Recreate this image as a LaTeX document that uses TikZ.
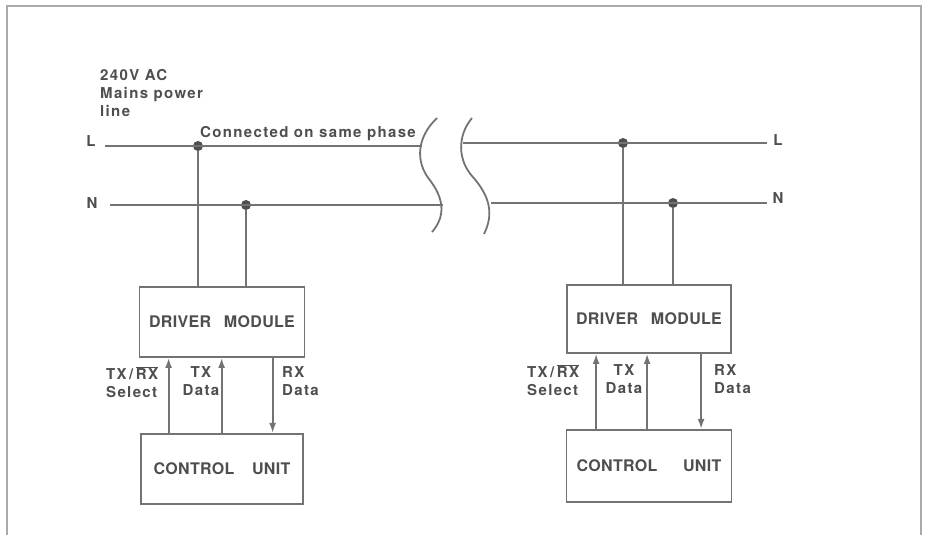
\documentclass[tikz,border=0pt]{standalone}
\usepackage{fontspec}
\setmainfont{TeX Gyre Heros}
\newfontfamily\lblfont[LetterSpace=9]{TeX Gyre Heros Bold}
\newfontfamily\unitfont[LetterSpace=2]{TeX Gyre Heros Bold}
\usetikzlibrary{positioning,arrows.meta,calc}
\definecolor{ink}{RGB}{78,78,78}
\definecolor{cwire}{RGB}{115,115,115}
\definecolor{cframe}{RGB}{170,170,170}
\tikzset{
  unit/.style={draw=cwire, line width=1.8pt, text=ink, minimum width=164pt,
    minimum height=70pt, inner sep=0pt, font=\unitfont\fontsize{16}{19}\selectfont},
  lbl/.style={text=ink, inner sep=0pt, align=left,
    font=\lblfont\fontsize{15}{18}\selectfont},
  wire/.style={draw=cwire, line width=1.8pt},
  sig/.style={draw=cwire, line width=1.8pt, -{Latex[length=10pt,width=7pt]}},
  joint/.style={circle, fill=ink, inner sep=0pt, minimum size=10pt},
}

\begin{document}
\begin{tikzpicture}[x=1pt, y=-1pt, node distance=75pt]
  \useasboundingbox (0,0) rectangle (928,535);
  % outer frame, open at the bottom
  \draw[draw=cframe, line width=1.4pt] (7,535) -- (7,6) -- (921,6) -- (921,535);

  % mains line, left side
  \node[lbl, anchor=north west] (mains) at (100,69) {240V AC\\Mains power\\line};
  \node[lbl] (lA) at (91,141) {L};
  \node[lbl] (nA) at (92,203) {N};
  \node[lbl, anchor=base west] (phase) at (200,137) {Connected on same phase};
  \coordinate (lAend) at (422,146);
  \coordinate (nAend) at (443,205);
  \node[joint] (jlA) at (198,146) {};
  \node[joint] (jnA) at (246,205) {};
  \draw[wire] (105,146) coordinate (lAstart) -- (lAend);
  \draw[wire] (110,205) coordinate (nAstart) -- (nAend);

  % break in the line
  \draw[wire] (437,118) .. controls (416,138) and (416,162) .. (429,179)
    .. controls (444,198) and (446,216) .. (432,232);
  \draw[wire] (472,118) .. controls (457,136) and (458,160) .. (472,176)
    .. controls (490,196) and (494,214) .. (484,234);

  % mains line, right side
  \node[lbl] (lB) at (778,140) {L};
  \node[lbl] (nB) at (778,198) {N};
  \coordinate (lBstart) at (463,143);
  \coordinate (nBstart) at (491,203);
  \node[joint] (jlB) at (623,143) {};
  \node[joint] (jnB) at (673,203) {};
  \draw[wire] (lBstart) -- (767,143);
  \draw[wire] (nBstart) -- (767,203);

  % left station
  \node[unit, minimum width=165pt] (drvA) at (222,322) {DRIVER\hspace{0.8em}MODULE};
  \node[unit, minimum width=162pt, below=75pt of drvA] (ctlA) {CONTROL\hspace{1.1em}UNIT};
  \draw[wire] (jlA) -- (jlA |- drvA.north);
  \draw[wire] (jnA) -- (jnA |- drvA.north);
  \coordinate (selA) at ($(drvA.south west)+(30,0)$);
  \coordinate (txA) at ($(drvA.south west)+(83,0)$);
  \coordinate (rxA) at ($(drvA.south west)+(134,0)$);
  \draw[sig] (selA |- ctlA.north) -- (selA);
  \draw[sig] (txA |- ctlA.north) -- (txA);
  \draw[sig] (rxA) -- (rxA |- ctlA.north);
  \node[lbl, anchor=north west] (selAtxt) at (106,366) {TX\,/\,$\overline{\hbox{RX}}$\\Select};
  \node[lbl, anchor=north, align=center] (txAtxt) at (201,366) {TX\\Data};
  \node[lbl, anchor=north west] (rxAtxt) at (282,366) {RX\\Data};

  % right station
  \node[unit, minimum height=68pt] (drvB) at (649,319) {DRIVER\hspace{0.8em}MODULE};
  \node[unit, minimum width=165pt, minimum height=72pt, below=75pt of drvB] (ctlB) {CONTROL\hspace{1.6em}UNIT};
  \draw[wire] (jlB) -- (jlB |- drvB.north);
  \draw[wire] (jnB) -- (jnB |- drvB.north);
  \coordinate (selB) at ($(drvB.south west)+(30,0)$);
  \coordinate (txB) at ($(drvB.south west)+(81,0)$);
  \coordinate (rxB) at ($(drvB.south west)+(135,0)$);
  \draw[sig] (selB |- ctlB.north) -- (selB);
  \draw[sig] (txB |- ctlB.north) -- (txB);
  \draw[sig] (rxB) -- (rxB |- ctlB.north);
  \node[lbl, anchor=north west] (selBtxt) at (527,364) {TX\,/\,$\overline{\hbox{RX}}$\\Select};
  \node[lbl, anchor=north, align=center] (txBtxt) at (624,364) {TX\\Data};
  \node[lbl, anchor=north west] (rxBtxt) at (714,364) {RX\\Data};
\end{tikzpicture}
\end{document}
